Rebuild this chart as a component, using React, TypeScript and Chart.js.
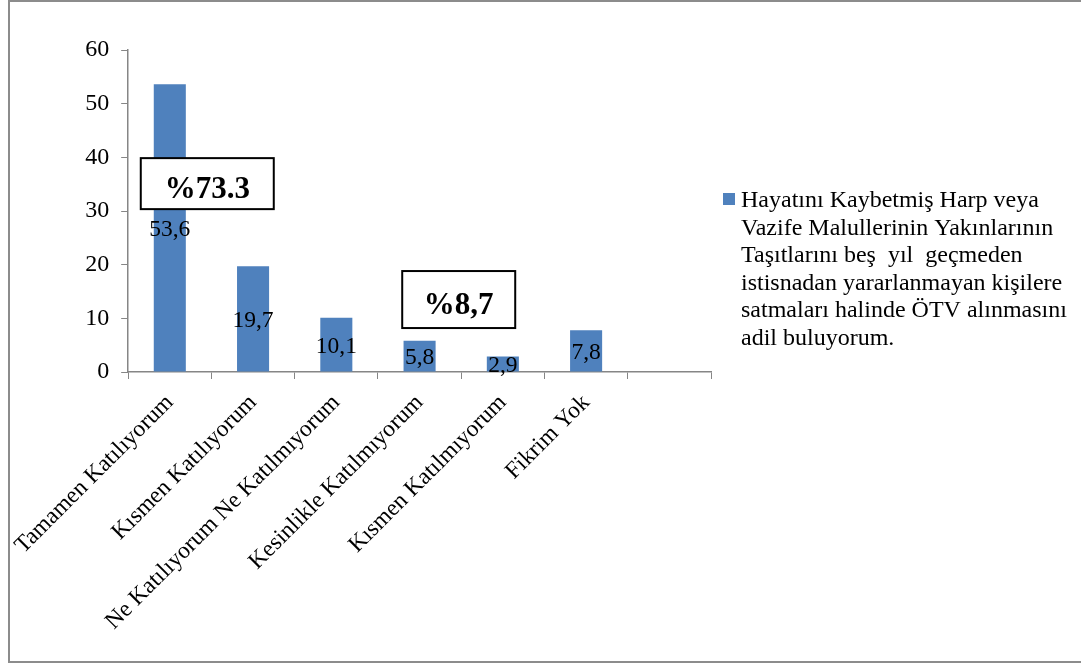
import React, { useEffect, useRef } from 'react';
import { Chart, registerables } from 'chart.js';

Chart.register(...registerables);

// ---- Data ----
const categories = [
  'Tamamen Katılıyorum',
  'Kısmen Katılıyorum',
  'Ne Katılıyorum Ne Katılmıyorum',
  'Kesinlikle Katılmıyorum',
  'Kısmen Katılmıyorum',
  'Fikrim Yok',
  '',
];
const values: (number | null)[] = [53.6, 19.7, 10.1, 5.8, 2.9, 7.8, null];
const yTicks = [0, 10, 20, 30, 40, 50, 60];
const seriesName =
  'Hayatını Kaybetmiş Harp veya Vazife Malullerinin Yakınlarının Taşıtlarını beş  yıl  geçmeden istisnadan yararlanmayan kişilere satmaları halinde ÖTV alınmasını adil buluyorum.';
const legendLines = [
  'Hayatını Kaybetmiş Harp veya',
  'Vazife Malullerinin Yakınlarının',
  'Taşıtlarını beş  yıl  geçmeden',
  'istisnadan yararlanmayan kişilere',
  'satmaları halinde ÖTV alınmasını',
  'adil buluyorum.',
];
const calloutTexts = ['%73.3', '%8,7'];
const calloutIndex = [0.45, 3.47];
const calloutValue = [35.1, 13.5];

// ---- Styles ----
const FONT = "'Liberation Serif', 'Times New Roman', serif";
const BAR_COLOR = '#4F81BD';
const AXIS_COLOR = '#868686';
const calloutSize = [
  { w: 133, h: 51 },
  { w: 113, h: 57 },
];

const overlayPlugin = {
  id: 'overlay',
  afterDraw(chart: any) {
    const ctx = chart.ctx as CanvasRenderingContext2D;
    const meta = chart.getDatasetMeta(0);
    const ds = chart.data.datasets[0].data as (number | null)[];

    // data labels (centered in bars)
    ctx.save();
    ctx.fillStyle = '#000';
    ctx.font = `23.5px ${FONT}`;
    ctx.textAlign = 'center';
    ctx.textBaseline = 'middle';
    meta.data.forEach((bar: any, i: number) => {
      const v = ds[i];
      if (v == null) return;
      const p = bar.getProps(['x', 'y', 'base'], true);
      ctx.fillText(v.toFixed(1).replace('.', ','), p.x, (p.y + p.base) / 2 + 2);
    });
    ctx.restore();

    // callout boxes
    const xs = chart.scales.x;
    const ys = chart.scales.y;
    calloutTexts.forEach((t, i) => {
      const cx = xs.getPixelForValue(calloutIndex[i]);
      const cy = ys.getPixelForValue(calloutValue[i]);
      const { w, h } = calloutSize[i];
      ctx.save();
      ctx.fillStyle = '#fff';
      ctx.fillRect(cx - w / 2, cy - h / 2, w, h);
      ctx.strokeStyle = '#000';
      ctx.lineWidth = 2;
      ctx.strokeRect(cx - w / 2, cy - h / 2, w, h);
      ctx.fillStyle = '#000';
      ctx.font = `bold 31px ${FONT}`;
      ctx.textAlign = 'center';
      ctx.textBaseline = 'alphabetic';
      ctx.fillText(t, cx, cy + 14);
      ctx.restore();
    });

    // legend
    const area = chart.chartArea;
    const lx = area.right + 12;
    const firstBase = area.top + 157;
    ctx.save();
    ctx.fillStyle = BAR_COLOR;
    ctx.fillRect(lx, firstBase - 14, 12, 12);
    ctx.fillStyle = '#000';
    ctx.font = `24px ${FONT}`;
    ctx.textAlign = 'left';
    ctx.textBaseline = 'alphabetic';
    legendLines.forEach((ln, i) => {
      ctx.fillText(ln, lx + 18, firstBase + i * 27.6);
    });
    ctx.restore();
  },
};

export default function App() {
  const canvasRef = useRef<HTMLCanvasElement | null>(null);

  useEffect(() => {
    if (!canvasRef.current) return;
    const chart = new Chart(canvasRef.current, {
      type: 'bar',
      data: {
        labels: categories,
        datasets: [
          {
            label: seriesName,
            data: values,
            backgroundColor: BAR_COLOR,
            borderWidth: 0,
            barPercentage: 0.385,
            categoryPercentage: 1,
          },
        ],
      },
      options: {
        animation: false,
        responsive: true,
        maintainAspectRatio: false,
        layout: { padding: { top: 50, right: 370, left: 0, bottom: 0 } },
        plugins: {
          legend: { display: false },
          tooltip: { enabled: false },
        },
        scales: {
          x: {
            offset: true,
            grid: {
              offset: true,
              drawOnChartArea: false,
              drawTicks: true,
              tickLength: 7,
              color: AXIS_COLOR,
            },
            border: { display: true, color: AXIS_COLOR, width: 1.5 },
            ticks: {
              autoSkip: false,
              maxRotation: 45,
              minRotation: 45,
              color: '#000',
              padding: 10,
              font: { family: FONT, size: 23.5 },
            },
            afterFit(scale: any) {
              scale.height = 292;
            },
          },
          y: {
            min: 0,
            max: 60,
            grid: {
              drawOnChartArea: false,
              drawTicks: true,
              tickLength: 7,
              color: AXIS_COLOR,
            },
            border: { display: true, color: AXIS_COLOR, width: 1.5 },
            ticks: {
              stepSize: 10,
              color: '#000',
              padding: 12,
              font: { family: FONT, size: 24 },
            },
            afterBuildTicks(scale: any) {
              scale.ticks = yTicks.map((v) => ({ value: v }));
            },
            afterFit(scale: any) {
              scale.width = 128;
            },
          },
        },
      },
      plugins: [overlayPlugin],
    });
    return () => chart.destroy();
  }, []);

  return (
    <div style={{ position: 'absolute', left: 0, top: 0, width: 1081, height: 664, background: '#fff' }}>
      <div
        style={{
          position: 'absolute',
          left: 8,
          top: 0,
          width: 1073,
          height: 663,
          boxSizing: 'border-box',
          borderTop: '2px solid #8c8c8c',
          borderLeft: '2px solid #8c8c8c',
          borderBottom: '2px solid #8c8c8c',
        }}
      />
      <div style={{ position: 'absolute', left: 0, top: 0, width: 1081, height: 664 }}>
        <canvas ref={canvasRef} />
      </div>
    </div>
  );
}
